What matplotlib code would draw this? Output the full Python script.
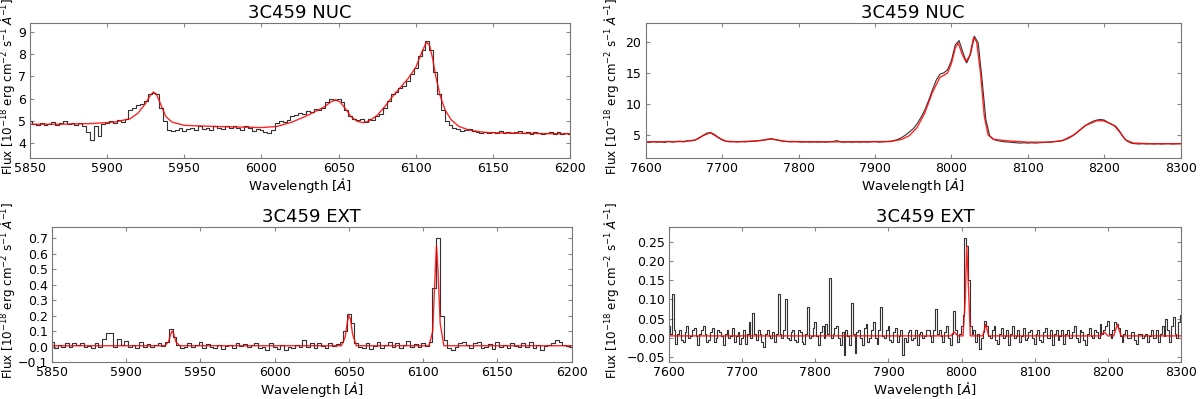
import numpy as np
import matplotlib
matplotlib.use("Agg")
import matplotlib.pyplot as plt

# ---- 3C459 NUC, blue side (bins of 2.5 A, 5850-6200) ----
nuc_blue_flux = [
    5.0, 4.85, 4.8, 4.9, 4.8, 4.85, 4.95, 4.8, 4.9, 5.0,
    4.85, 4.9, 4.8, 4.9, 4.75, 4.5, 4.15, 4.75, 4.3, 4.85,
    4.9, 5.0, 4.9, 5.05, 4.95, 5.1, 5.5, 5.6, 5.7, 5.75,
    5.9, 6.2, 6.25, 6.2, 5.6, 5.0, 4.6, 4.55, 4.6, 4.7,
    4.55, 4.65, 4.7, 4.6, 4.75, 4.65, 4.7, 4.6, 4.75, 4.7,
    4.65, 4.75, 4.7, 4.75, 4.7, 4.6, 4.75, 4.7, 4.55, 4.65,
    4.6, 4.5, 4.45, 4.6, 4.9, 5.0, 4.95, 5.05, 5.2, 5.25,
    5.35, 5.3, 5.45, 5.4, 5.55, 5.5, 5.6, 5.85, 6.0, 5.95,
    6.0, 5.85, 5.5, 5.2, 5.1, 5.05, 5.1, 4.95, 5.1, 5.05,
    5.2, 5.3, 5.6, 5.9, 6.2, 6.3, 6.5, 6.55, 6.8, 7.1,
    7.4, 7.9, 8.2, 8.6, 8.2, 7.2, 6.2, 5.5, 5.0, 4.8,
    4.7, 4.65, 4.55, 4.6, 4.65, 4.55, 4.5, 4.45, 4.5, 4.45,
    4.5, 4.45, 4.55, 4.45, 4.5, 4.45, 4.5, 4.55, 4.45, 4.5,
    4.4, 4.5, 4.45, 4.4, 4.45, 4.5, 4.4, 4.5, 4.4, 4.45,
    4.4,
]
nuc_blue_fit_wave = [
    5850, 5870, 5890, 5905, 5915, 5920, 5925, 5928, 5930, 5932,
    5935, 5938, 5942, 5950, 5970, 6000, 6010, 6020, 6030, 6040,
    6045, 6048, 6051, 6055, 6058, 6062, 6066, 6070, 6075, 6080,
    6085, 6090, 6095, 6100, 6104, 6107, 6109, 6111, 6113, 6116,
    6119, 6123, 6128, 6135, 6145, 6160, 6180, 6200,
]
nuc_blue_fit_flux = [
    4.85, 4.85, 4.88, 4.95, 5.1, 5.35, 5.8, 6.15, 6.3, 6.2,
    5.7, 5.2, 4.95, 4.8, 4.75, 4.7, 4.75, 4.95, 5.25, 5.6,
    5.85, 5.95, 5.85, 5.5, 5.2, 4.98, 4.92, 5.0, 5.25, 5.65,
    6.1, 6.5, 6.9, 7.4, 8.1, 8.55, 8.4, 7.8, 7.0, 6.1,
    5.5, 5.05, 4.75, 4.58, 4.48, 4.45, 4.43, 4.42,
]

# ---- 3C459 NUC, red side (bins of 5 A, 7600-8300) ----
nuc_red_flux = [
    3.9, 3.8, 3.95, 3.85, 3.9, 3.8, 4.0, 3.85, 3.95, 4.0,
    3.9, 4.1, 4.05, 4.2, 4.5, 4.9, 5.3, 5.4, 5.1, 4.6,
    4.2, 4.0, 3.9, 3.95, 3.9, 3.95, 3.9, 3.95, 4.0, 4.05,
    4.1, 4.2, 4.35, 4.4, 4.25, 4.1, 4.0, 3.95, 3.9, 3.95,
    3.9, 3.85, 3.9, 3.85, 3.9, 3.85, 3.9, 3.85, 3.9, 3.95,
    4.1, 3.9, 3.85, 3.9, 3.85, 3.9, 3.85, 3.9, 3.85, 3.9,
    3.95, 3.85, 3.9, 3.95, 4.0, 4.1, 4.3, 4.6, 5.0, 5.5,
    6.0, 6.8, 7.8, 9.0, 10.5, 12.2, 13.8, 14.8, 15.0, 15.5,
    17.0, 19.5, 20.2, 18.3, 16.6, 18.0, 20.9, 19.8, 14.0, 7.5,
    4.9, 4.3, 4.1, 4.0, 3.9, 3.85, 3.8, 3.75, 3.7, 3.75,
    3.7, 3.75, 3.7, 3.75, 3.8, 3.85, 3.9, 3.95, 4.0, 4.1,
    4.3, 4.6, 5.0, 5.5, 6.0, 6.5, 6.9, 7.2, 7.4, 7.5,
    7.4, 7.0, 6.7, 6.4, 5.6, 4.6, 4.0, 3.7, 3.6, 3.55,
    3.6, 3.55, 3.6, 3.55, 3.6, 3.55, 3.6, 3.6, 3.55, 3.6,
    3.6,
]
nuc_red_fit_wave = [
    7600, 7650, 7665, 7675, 7685, 7695, 7705, 7720, 7745, 7765,
    7785, 7850, 7920, 7935, 7945, 7955, 7965, 7975, 7985, 7990,
    7995, 8000, 8005, 8009, 8014, 8019, 8024, 8029, 8033, 8038,
    8043, 8048, 8055, 8070, 8100, 8130, 8145, 8160, 8175, 8190,
    8198, 8205, 8213, 8220, 8228, 8238, 8260, 8300,
]
nuc_red_fit_flux = [
    3.9, 3.95, 4.2, 4.9, 5.35, 4.6, 4.0, 3.9, 4.05, 4.35,
    3.95, 3.9, 3.95, 4.3, 4.9, 6.2, 8.5, 11.8, 14.3, 14.6,
    15.0, 16.5, 19.0, 19.8, 18.0, 16.8, 17.8, 20.7, 20.0, 15.0,
    8.0, 5.0, 4.3, 4.1, 3.85, 3.85, 4.1, 5.0, 6.5, 7.3,
    7.3, 7.0, 6.5, 5.5, 4.2, 3.7, 3.6, 3.6,
]

# ---- 3C459 EXT, blue side (bins of 2.5 A, 5850-6200) ----
ext_blue_flux = [
    0.03, -0.01, 0.01, -0.005, 0.02, 0.0, 0.025, 0.01, 0.02, -0.005,
    0.005, -0.01, 0.02, 0.0, 0.05, 0.09, 0.085, -0.005, 0.05, 0.01,
    0.035, 0.0, 0.01, -0.01, 0.03, 0.0, 0.015, -0.005, 0.01, 0.02,
    0.005, 0.03, 0.11, 0.06, 0.01, -0.01, 0.0, 0.02, -0.005, 0.01,
    0.03, -0.01, 0.015, 0.0, -0.01, 0.01, -0.015, 0.005, 0.01, -0.01,
    0.02, 0.005, 0.015, -0.005, 0.01, 0.02, -0.01, 0.0, -0.025, 0.02,
    0.0, -0.015, 0.01, -0.02, 0.0, -0.01, 0.01, -0.005, 0.04, 0.0,
    0.02, -0.01, 0.025, 0.005, -0.01, 0.02, 0.005, 0.015, 0.03, 0.1,
    0.21, 0.15, 0.02, 0.0, -0.01, 0.02, -0.015, 0.005, 0.03, -0.01,
    0.01, 0.03, -0.005, 0.02, -0.01, 0.01, 0.035, -0.005, 0.015, 0.0,
    0.02, 0.005, 0.03, 0.38, 0.7, 0.2, 0.04, -0.01, -0.02, 0.0,
    0.02, 0.03, 0.01, -0.01, 0.02, 0.03, -0.01, 0.0, 0.015, -0.015,
    0.03, 0.0, 0.01, -0.01, 0.02, 0.005, -0.005, 0.02, 0.0, 0.03,
    -0.01, 0.01, -0.02, 0.005, 0.01, 0.02, 0.045, 0.03, 0.01, 0.005,
    0.0,
]
ext_blue_fit_wave = [
    5850, 5926, 5928.5, 5930, 5931, 5932, 5933.5, 5936, 6045, 6047.5,
    6049, 6050, 6051, 6052.5, 6055, 6104, 6106.5, 6108, 6109, 6110,
    6111.5, 6114, 6200,
]
ext_blue_fit_flux = [
    0.005, 0.005, 0.03, 0.08, 0.1, 0.08, 0.03, 0.005, 0.005, 0.06,
    0.16, 0.2, 0.18, 0.08, 0.005, 0.005, 0.1, 0.45, 0.65, 0.5,
    0.15, 0.005, 0.005,
]

# ---- 3C459 EXT, red side (bins of 2.5 A, 7600-8300) ----
ext_red_flux = [
    0.03, 0.01, 0.115, 0.02, -0.015, 0.01, 0.02, -0.005, -0.01, 0.015,
    0.03, 0.0, 0.005, 0.02, 0.025, 0.005, -0.02, 0.01, 0.02, 0.03,
    0.01, -0.01, -0.005, 0.015, 0.025, -0.01, 0.0, 0.02, 0.015, 0.005,
    -0.02, 0.01, 0.02, 0.0, 0.005, 0.025, -0.01, 0.005, 0.015, -0.015,
    0.0, 0.02, -0.015, 0.01, 0.04, 0.0, 0.065, 0.01, -0.005, 0.02,
    0.01, -0.01, -0.025, 0.01, 0.02, 0.005, 0.0, 0.015, -0.01, 0.01,
    0.115, 0.01, 0.0, 0.02, 0.1, 0.0, -0.005, 0.015, 0.02, -0.005,
    -0.01, 0.02, 0.015, -0.01, -0.015, 0.01, 0.08, 0.0, 0.005, 0.025,
    0.04, 0.005, -0.02, 0.015, 0.03, 0.0, 0.035, 0.01, 0.155, 0.0,
    0.01, 0.025, 0.03, 0.0, -0.02, 0.015, -0.045, 0.02, 0.005, -0.02,
    0.09, 0.01, -0.04, 0.015, 0.02, 0.0, -0.02, 0.025, 0.035, -0.01,
    0.0, 0.02, 0.04, 0.0, -0.015, 0.02, 0.08, 0.005, 0.0, 0.02,
    0.03, -0.005, -0.01, 0.015, 0.025, -0.01, 0.005, 0.02, -0.045, 0.0,
    -0.01, 0.015, 0.02, -0.005, 0.0, 0.02, -0.02, 0.01, 0.015, 0.0,
    0.005, 0.02, 0.02, 0.005, -0.01, 0.02, 0.075, 0.01, 0.02, 0.005,
    -0.01, 0.015, 0.03, 0.0, -0.02, 0.01, 0.07, 0.02, -0.01, 0.01,
    0.03, 0.06, 0.26, 0.24, 0.15, 0.03, 0.01, 0.02, -0.01, 0.01,
    -0.03, 0.0, 0.015, 0.045, 0.03, 0.005, 0.0, 0.02, 0.03, -0.005,
    -0.015, 0.01, 0.025, 0.0, 0.005, 0.02, -0.02, 0.01, 0.03, 0.0,
    0.005, 0.02, -0.01, 0.005, 0.025, -0.005, 0.0, 0.015, 0.02, 0.0,
    -0.015, 0.01, 0.02, -0.005, -0.01, 0.015, 0.025, 0.0, 0.0, 0.02,
    -0.02, 0.01, 0.02, -0.005, 0.005, 0.02, -0.015, 0.01, 0.02, 0.0,
    0.0, 0.015, 0.03, 0.0, -0.01, 0.02, 0.015, -0.005, -0.02, 0.01,
    0.025, 0.005, 0.0, 0.02, 0.015, 0.0, 0.035, 0.01, 0.02, 0.03,
    0.045, 0.01, 0.0, 0.02, 0.04, 0.035, 0.025, 0.005, -0.01, 0.01,
    0.02, 0.0, 0.0, 0.015, 0.015, -0.005, -0.015, 0.01, 0.01, 0.0,
    0.005, 0.01, -0.01, 0.005, 0.02, 0.0, 0.0, 0.02, -0.01, 0.01,
    0.03, 0.005, 0.05, 0.02, -0.01, 0.03, 0.055, 0.01, 0.0, 0.04,
    0.06,
]
ext_red_fit_wave = [
    7600, 7985, 7990, 7995, 8002, 8005, 8007, 8009, 8012, 8029,
    8033, 8037, 8190, 8195, 8200, 8208, 8213, 8218, 8300,
]
ext_red_fit_flux = [
    0.005, 0.005, 0.015, 0.005, 0.005, 0.1, 0.24, 0.15, 0.005, 0.005,
    0.035, 0.005, 0.005, 0.015, 0.005, 0.005, 0.035, 0.005, 0.005,
]

nuc_blue_wave = np.linspace(5850, 6200, len(nuc_blue_flux))
nuc_red_wave = np.linspace(7600, 8300, len(nuc_red_flux))
ext_blue_wave = np.linspace(5850, 6200, len(ext_blue_flux))
ext_red_wave = np.linspace(7600, 8300, len(ext_red_flux))

ylab = r'Flux [10$^{-18}$ erg cm$^{-2}$ s$^{-1}$ $\mathring{A}^{-1}$]'
xlab = r'Wavelength [$\mathring{A}$]'

fig = plt.figure(figsize=(12, 3.99), dpi=100)


def panel(rect, wave, flux, fit_wave, fit_flux, title, xlim, ylim,
          xticks, yticks, yfmt, ylab_x, steps=True):
    ax = fig.add_axes(rect)
    ax.plot(wave, flux, drawstyle='steps-mid' if steps else 'default',
            color='#333333', linewidth=0.8)
    ax.plot(fit_wave, fit_flux, color='red', linewidth=1.0, alpha=0.85)
    ax.set_xlim(xlim)
    ax.set_ylim(ylim)
    ax.set_xticks(xticks)
    ax.set_yticks(yticks)
    ax.set_yticklabels([yfmt.format(v).replace('-', '\u2212') for v in yticks])
    ax.tick_params(direction='in', top=True, right=True, length=3,
                   color='#888888', labelsize=9, pad=3)
    for s in ax.spines.values():
        s.set_color('#777777')
    ax.set_title(title, fontsize=13, pad=4)
    ax.set_xlabel(xlab, fontsize=9.5, labelpad=1)
    ax.set_ylabel(ylab, fontsize=8.6)
    # y label sits at a fixed figure x, centred on the axes
    ax.yaxis.set_label_coords(ylab_x, rect[1] + rect[3] / 2 + 0.01,
                              transform=fig.transFigure)
    return ax


panel([0.025, 0.604, 0.45, 0.338], nuc_blue_wave, nuc_blue_flux,
      nuc_blue_fit_wave, nuc_blue_fit_flux, '3C459 NUC',
      (5850, 6200), (3.33, 9.4), range(5850, 6201, 50),
      [4, 5, 6, 7, 8, 9], '{:d}', 0.0152)

panel([0.538, 0.604, 0.446, 0.338], nuc_red_wave, nuc_red_flux,
      nuc_red_fit_wave, nuc_red_fit_flux, '3C459 NUC',
      (7600, 8300), (1.3, 23.0), range(7600, 8301, 100),
      [5, 10, 15, 20], '{:d}', 0.518, steps=False)

panel([0.0433, 0.0927, 0.433, 0.338], ext_blue_wave, ext_blue_flux,
      ext_blue_fit_wave, ext_blue_fit_flux, '3C459 EXT',
      (5850, 6200), (-0.1, 0.77), range(5850, 6201, 50),
      [-0.1, 0.0, 0.1, 0.2, 0.3, 0.4, 0.5, 0.6, 0.7], '{:.1f}', 0.0152)

panel([0.5575, 0.0927, 0.4267, 0.338], ext_red_wave, ext_red_flux,
      ext_red_fit_wave, ext_red_fit_flux, '3C459 EXT',
      (7600, 8300), (-0.063, 0.288), range(7600, 8301, 100),
      [-0.05, 0.0, 0.05, 0.10, 0.15, 0.20, 0.25], '{:.2f}', 0.518)

fig.savefig('out.png', dpi=100)
